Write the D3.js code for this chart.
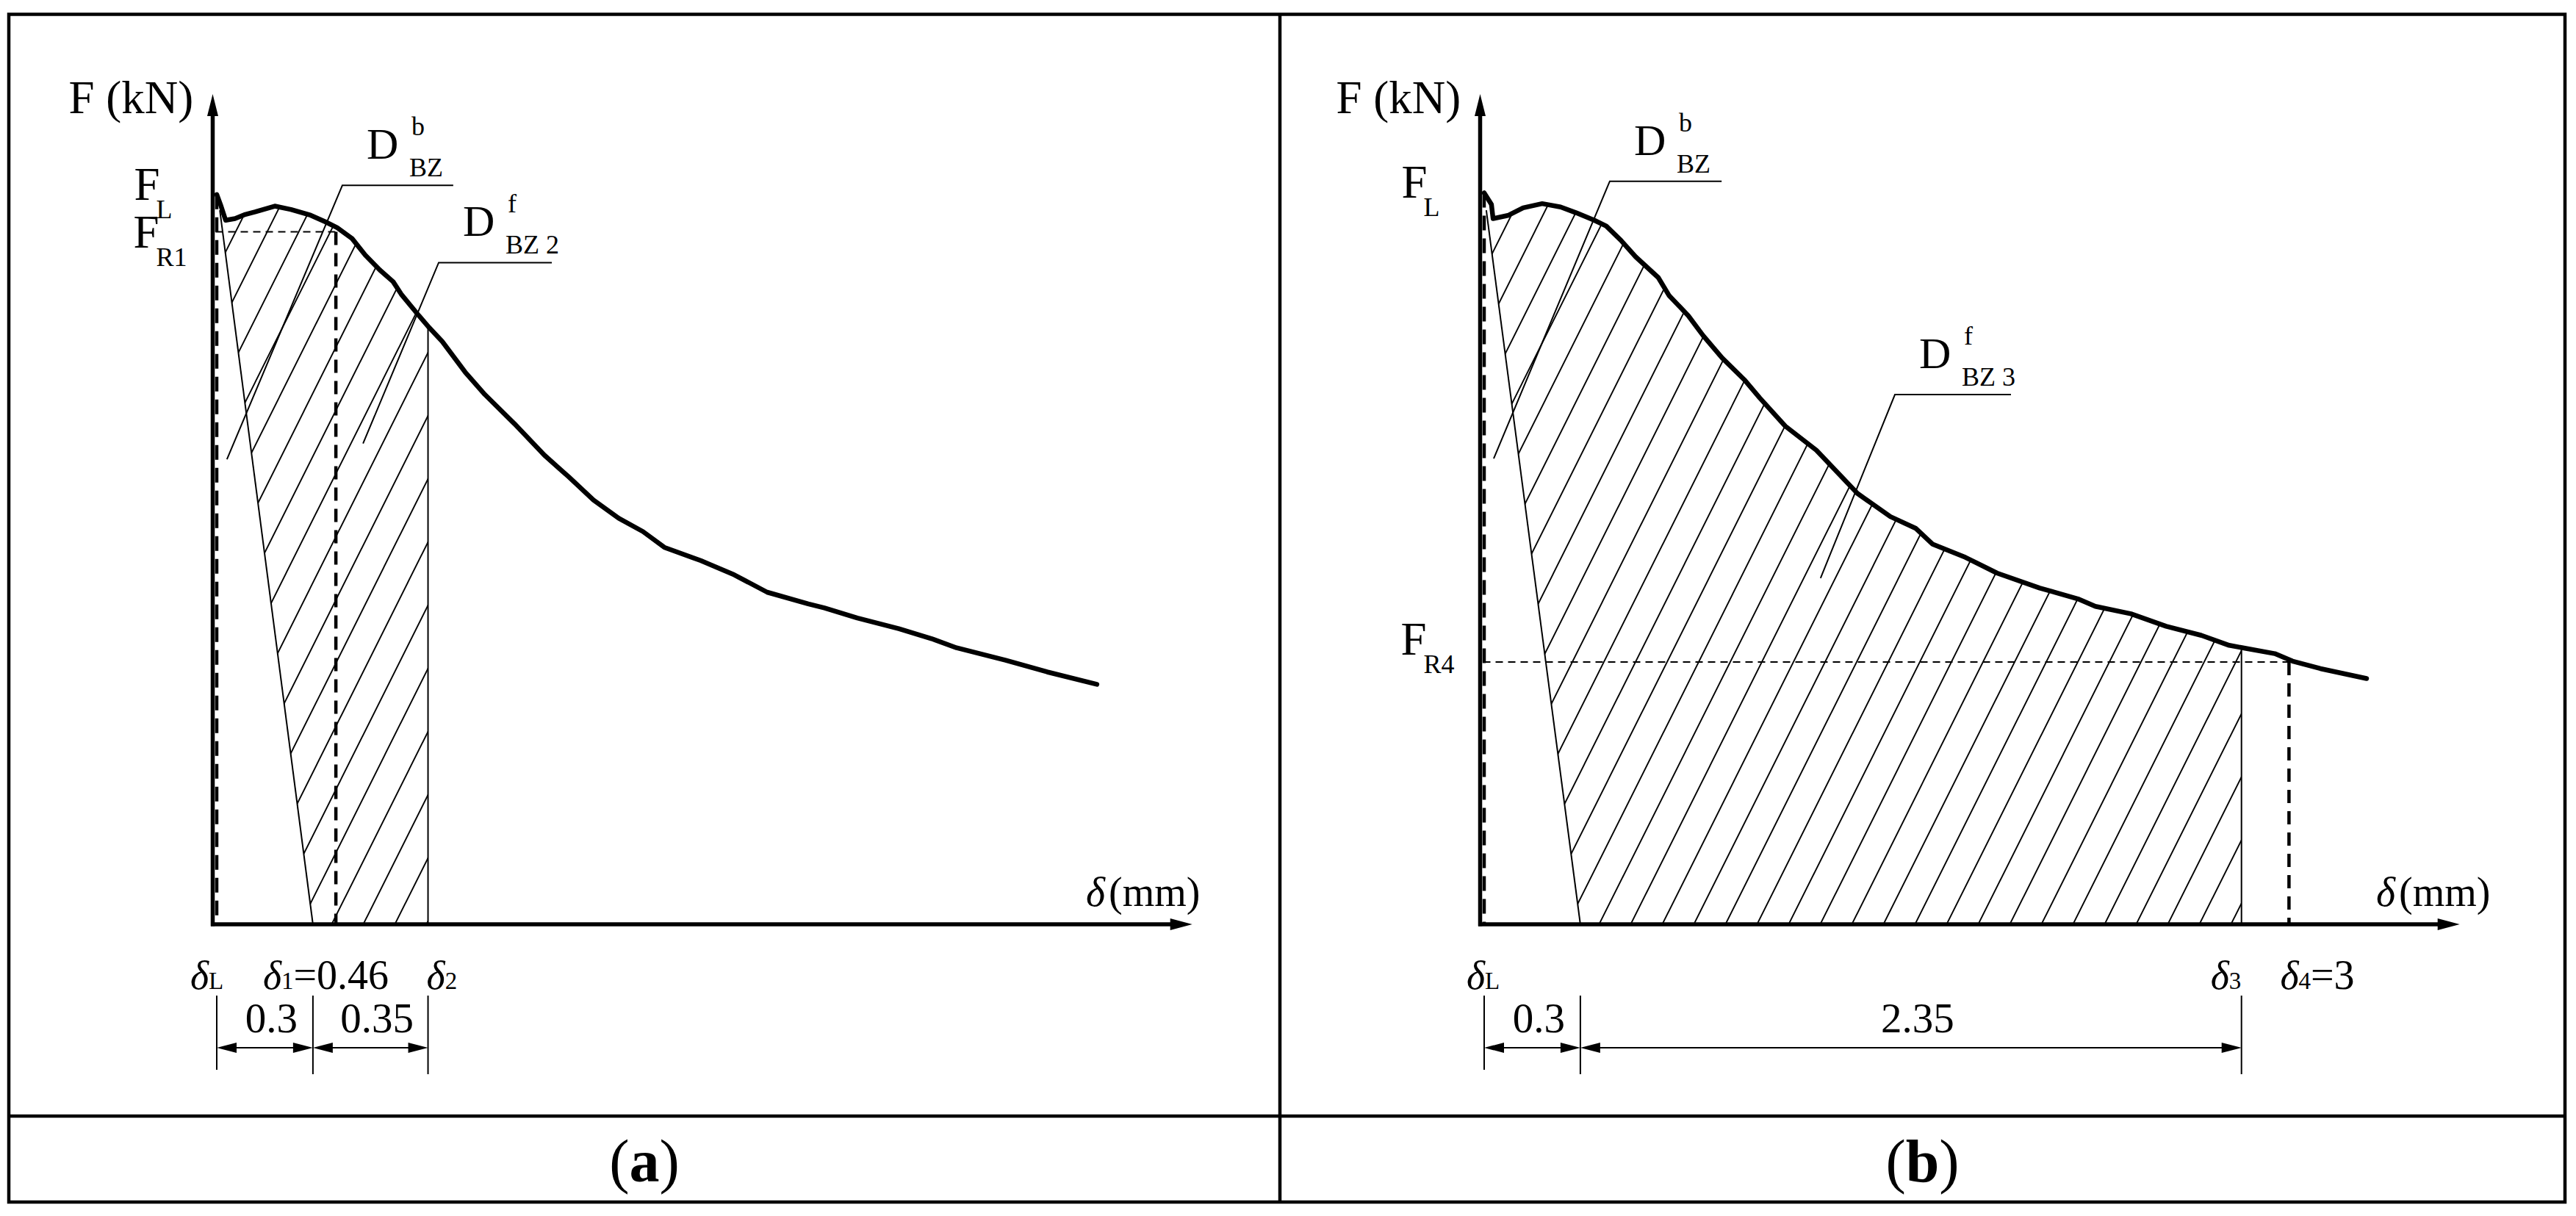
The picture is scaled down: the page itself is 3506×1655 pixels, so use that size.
<!DOCTYPE html>
<html><head><meta charset="utf-8">
<script src="https://cdn.jsdelivr.net/npm/d3@7"></script>
<style>
body{margin:0;background:#fff}
text{font-family:"Liberation Serif","Times New Roman",serif;fill:#000}
</style>
</head><body>
<svg id="c" width="3506" height="1655"></svg>
<script>
// ================= DATA (schematic) =================
// Panel (a): load–deflection curve, delta in mm (as drawn), F in kN (schematic units)
const curveA_delta = [0.0125,0.024,0.040,0.069,0.101,0.131,0.192,0.242,0.303,0.349,0.385,0.431,0.472,0.517,0.558,0.583,0.638,0.669,0.710,0.781,0.842,0.933,1.026,1.101,1.178,1.256,1.331,1.397,1.510,1.613,1.715,1.842,1.892,1.994,2.122,2.224,2.301,2.453,2.581,2.735];
const curveA_force = [8.79,8.67,8.48,8.50,8.55,8.58,8.65,8.61,8.54,8.46,8.39,8.26,8.06,7.88,7.74,7.59,7.33,7.19,7.02,6.65,6.38,6.03,5.65,5.39,5.11,4.89,4.73,4.54,4.38,4.21,4.00,3.86,3.81,3.69,3.56,3.44,3.33,3.18,3.04,2.89];
// Panel (b)
const curveB_delta = [0.0125,0.035,0.040,0.088,0.133,0.192,0.249,0.297,0.353,0.390,0.435,0.481,0.551,0.585,0.644,0.690,0.749,0.817,0.865,0.944,1.040,1.167,1.269,1.347,1.399,1.501,1.599,1.731,1.849,1.903,2.013,2.122,2.231,2.317,2.458,2.513,2.599,2.742];
const curveB_force = [8.81,8.67,8.50,8.54,8.63,8.68,8.64,8.57,8.48,8.41,8.24,8.04,7.79,7.57,7.33,7.09,6.82,6.56,6.34,6.00,5.71,5.19,4.91,4.77,4.58,4.42,4.23,4.05,3.92,3.83,3.74,3.59,3.48,3.36,3.26,3.17,3.08,2.96];

// Characteristic deflections (positions as drawn) and forces
const deltaA = {L:0.0125, zero:0.31, d1:0.381, d2:0.666};
const forceA = {L:8.79, R1:8.34, unloadTop:8.60};
const deltaB = {L:0.0125, zero:0.31, d3:2.355, d4:2.502};
const forceB = {L:8.81, R4:3.16, unloadTop:8.60};

// Dimension texts
const dimLabelsA = ["0.3","0.35"];
const dimLabelsB = ["0.3","2.35"];
const panelLabels = ["a","b"];

// Leader annotations: elbow / end point (delta, F) and tail delta
const notesA = [
  {sup:"b", sub:"BZ",   elbow:[0.401,8.90], end:[0.044,5.60], tail:0.744},
  {sup:"f", sub:"BZ 2", elbow:[0.699,7.97], end:[0.465,5.79], tail:1.049}
];
const notesB = [
  {sup:"b", sub:"BZ",   elbow:[0.401,8.95], end:[0.042,5.61], tail:0.747},
  {sup:"f", sub:"BZ 3", elbow:[1.283,6.38], end:[1.053,4.17], tail:1.642}
];

// ================= DRAWING =================
const W = 3506, H = 1655;
const svg = d3.select("#c");
svg.append("rect").attr("width", W).attr("height", H).attr("fill", "#fff");

const frame = {left:12, top:19.5, right:3491, bottom:1636, mid:1742, cap:1519};
const fr = svg.append("g").attr("stroke","#000").attr("stroke-width",4.5).attr("fill","none");
fr.append("rect").attr("x",frame.left).attr("y",frame.top)
  .attr("width",frame.right-frame.left).attr("height",frame.bottom-frame.top);
fr.append("line").attr("x1",frame.mid).attr("x2",frame.mid).attr("y1",frame.top).attr("y2",frame.bottom);
fr.append("line").attr("x1",frame.left).attr("x2",frame.right).attr("y1",frame.cap).attr("y2",frame.cap);

const PXMM = 440;
const XMAX = 3.03;

function interp(xs, ys, x){
  for (let i=0;i<xs.length-1;i++){
    if (x>=xs[i] && x<=xs[i+1]){
      const t=(x-xs[i])/(xs[i+1]-xs[i]); return ys[i]+t*(ys[i+1]-ys[i]);
    }
  }
  return ys[ys.length-1];
}

function tri(g, tip, dir, len, hw){
  const [tx,ty]=tip; let pts;
  if (dir==="up") pts=[[tx,ty],[tx-hw,ty+len],[tx+hw,ty+len]];
  else if (dir==="right") pts=[[tx,ty],[tx-len,ty-hw],[tx-len,ty+hw]];
  else pts=[[tx,ty],[tx+len,ty-hw],[tx+len,ty+hw]];
  g.append("path").attr("d","M"+pts.map(p=>p.join(",")).join("L")+"Z").attr("fill","#000").attr("stroke","none");
}

function drawPanel(cfg){
  const x = d3.scaleLinear().domain([0, XMAX]).range([cfg.ox, cfg.ox + XMAX*PXMM]);
  const y = d3.scaleLinear().domain([0, 10]).range([1258, 128]);
  const g = svg.append("g");
  const xs = cfg.cx, ys = cfg.cy;
  const pts = xs.map((d,i)=>[d, ys[i]]);

  // ---- hatched region ----
  const xEnd = cfg.xEnd;
  const poly = [[cfg.unloadTopX, cfg.unloadTopF]];
  pts.forEach(p=>{ if (p[0]>cfg.unloadTopX && p[0]<xEnd) poly.push(p); });
  poly.push([xEnd, interp(xs,ys,xEnd)]);
  poly.push([xEnd, 0]);
  poly.push([cfg.zero, 0]);
  const clipId = "clip"+cfg.id;
  svg.append("clipPath").attr("id",clipId).append("path")
    .attr("d","M"+poly.map(p=>x(p[0])+","+y(p[1])).join("L")+"Z");
  const hg = g.append("g").attr("clip-path","url(#"+clipId+")")
     .attr("stroke","#000").attr("stroke-width",1.9);
  const x0 = x(cfg.zero)+23, step = 43, yb = y(0)+5, yt = y(10);
  for (let k=-30;k<=40;k++){
    const xb = x0 + k*step;
    hg.append("line").attr("x1",xb).attr("y1",yb).attr("x2",xb+0.5*(yb-yt)).attr("y2",yt);
  }

  // ---- thin lines: unloading line, end-of-area line ----
  g.append("line").attr("x1",x(cfg.unloadTopX)).attr("y1",y(cfg.unloadTopF))
    .attr("x2",x(cfg.zero)).attr("y2",y(0)).attr("stroke","#000").attr("stroke-width",2);
  g.append("line").attr("x1",x(xEnd)).attr("y1",y(interp(xs,ys,xEnd)))
    .attr("x2",x(xEnd)).attr("y2",y(0)).attr("stroke","#000").attr("stroke-width",2);

  // ---- dashed guides ----
  g.append("line").attr("x1",x(cfg.dL)).attr("x2",x(cfg.dL)).attr("y1",y(cfg.FL)).attr("y2",y(0))
    .attr("stroke","#000").attr("stroke-width",4.5).attr("stroke-dasharray","20,11");
  g.append("line").attr("x1",x(0)+4).attr("x2",x(cfg.dR)).attr("y1",y(cfg.FR)).attr("y2",y(cfg.FR))
    .attr("stroke","#000").attr("stroke-width",2).attr("stroke-dasharray","10,7");
  g.append("line").attr("x1",x(cfg.dR)).attr("x2",x(cfg.dR)).attr("y1",y(cfg.FR)).attr("y2",y(0))
    .attr("stroke","#000").attr("stroke-width",4.5).attr("stroke-dasharray","18,11");

  // ---- curve ----
  g.append("path").datum(pts)
    .attr("d", d3.line().x(d=>x(d[0])).y(d=>y(d[1])))
    .attr("fill","none").attr("stroke","#000").attr("stroke-width",6.5)
    .attr("stroke-linejoin","round").attr("stroke-linecap","round");

  // ---- axes ----
  g.append("line").attr("x1",x(0)).attr("x2",x(0)).attr("y1",y(0)+2.5).attr("y2",y(10)+20)
    .attr("stroke","#000").attr("stroke-width",5.5);
  tri(g,[x(0),y(10)],"up",30,7.5);
  g.append("line").attr("x1",x(0)-2.5).attr("x2",x(XMAX)-20).attr("y1",y(0)).attr("y2",y(0))
    .attr("stroke","#000").attr("stroke-width",5.5);
  tri(g,[x(XMAX),y(0)],"right",30,8);

  // axis titles
  g.append("text").attr("x",x(0)-196).attr("y",154).attr("font-size",63).text("F (kN)");
  const dt = g.append("text").attr("x",cfg.deltaTitleX).attr("y",1233).attr("font-size",56);
  dt.append("tspan").attr("font-style","italic").text("δ");
  dt.append("tspan").attr("dx",5).text("(mm)");

  // F labels
  const fl = g.append("text").attr("x",x(0)-107).attr("y",y(cfg.FL)+7).attr("font-size",63);
  fl.append("tspan").text("F");
  fl.append("tspan").attr("font-size",36).attr("dx",-5).attr("dy",25).text("L");
  const frl = g.append("text").attr("x",x(0)-108).attr("y",y(cfg.FR)+cfg.FRdy).attr("font-size",63);
  frl.append("tspan").text("F");
  frl.append("tspan").attr("font-size",36).attr("dx",-4).attr("dy",25).text(cfg.FRsub);

  // leader notes
  cfg.notes.forEach(n=>{
    const ex=x(n.elbow[0]), ey=y(n.elbow[1]);
    g.append("path").attr("d",`M${x(n.end[0])},${y(n.end[1])}L${ex},${ey}L${x(n.tail)},${ey}`)
      .attr("fill","none").attr("stroke","#000").attr("stroke-width",2);
    g.append("text").attr("x",ex+33).attr("y",ey-36).attr("font-size",60).text("D");
    g.append("text").attr("x",ex+94).attr("y",ey-68).attr("font-size",36).text(n.sup);
    g.append("text").attr("x",ex+91).attr("y",ey-12).attr("font-size",36).text(n.sub);
  });

  // ---- dimension chain under the axis ----
  const ticks = cfg.dimTicks;
  const dg = g.append("g").attr("stroke","#000").attr("stroke-width",2);
  ticks.forEach((t,i)=>{
    dg.append("line").attr("x1",x(t)).attr("x2",x(t)).attr("y1",1355).attr("y2",i===0?1456:1462);
  });
  const yd = 1426;
  for (let i=0;i<ticks.length-1;i++){
    const a=x(ticks[i]), b=x(ticks[i+1]);
    dg.append("line").attr("x1",a+20).attr("x2",b-20).attr("y1",yd).attr("y2",yd);
    tri(g,[a,yd],"left",27,7);
    tri(g,[b,yd],"right",27,7);
    g.append("text").attr("x",(a+b)/2+9).attr("y",1405).attr("font-size",57)
      .attr("text-anchor","middle").text(cfg.dimLabels[i]);
  }
  // delta labels
  cfg.deltaLabels.forEach(dl=>{
    const t = g.append("text").attr("x",x(dl.at)+dl.dx).attr("y",1346).attr("font-size",56);
    t.append("tspan").attr("font-style","italic").attr("font-size",54).text("δ");
    t.append("tspan").attr("font-size",33).text(dl.sub);
    if (dl.rest) t.append("tspan").text(dl.rest);
  });

  // panel caption
  const cap = g.append("text").attr("x",cfg.capX).attr("y",1608).attr("font-size",82)
    .attr("text-anchor","middle");
  cap.append("tspan").text("(");
  cap.append("tspan").attr("font-weight","bold").text(cfg.caption);
  cap.append("tspan").text(")");
}

drawPanel({
  id:"a", ox:289.5, cx:curveA_delta, cy:curveA_force,
  unloadTopX:0.022, unloadTopF:forceA.unloadTop, zero:deltaA.zero, xEnd:deltaA.d2,
  dL:deltaA.L, FL:forceA.L, dR:deltaA.d1, FR:forceA.R1, FRdy:21, FRsub:"R1",
  notes:notesA, dimTicks:[deltaA.L, deltaA.zero, deltaA.d2], dimLabels:dimLabelsA,
  deltaLabels:[{at:deltaA.L,sub:"L",dx:-36},{at:deltaA.zero,sub:"1",rest:"=0.46",dx:-68},{at:deltaA.d2,sub:"2",dx:-2}],
  deltaTitleX:1478, capX:(frame.left+frame.mid)/2, caption:panelLabels[0]
});
drawPanel({
  id:"b", ox:2014.5, cx:curveB_delta, cy:curveB_force,
  unloadTopX:0.019, unloadTopF:forceB.unloadTop, zero:deltaB.zero, xEnd:deltaB.d3,
  dL:deltaB.L, FL:forceB.L, dR:deltaB.d4, FR:forceB.R4, FRdy:-10, FRsub:"R4",
  notes:notesB, dimTicks:[deltaB.L, deltaB.zero, deltaB.d3], dimLabels:dimLabelsB,
  deltaLabels:[{at:deltaB.L,sub:"L",dx:-24},{at:deltaB.d3,sub:"3",dx:-42},{at:deltaB.d4,sub:"4",rest:"=3",dx:-12}],
  deltaTitleX:3234, capX:(frame.mid+frame.right)/2, caption:panelLabels[1]
});
</script>
</body></html>
